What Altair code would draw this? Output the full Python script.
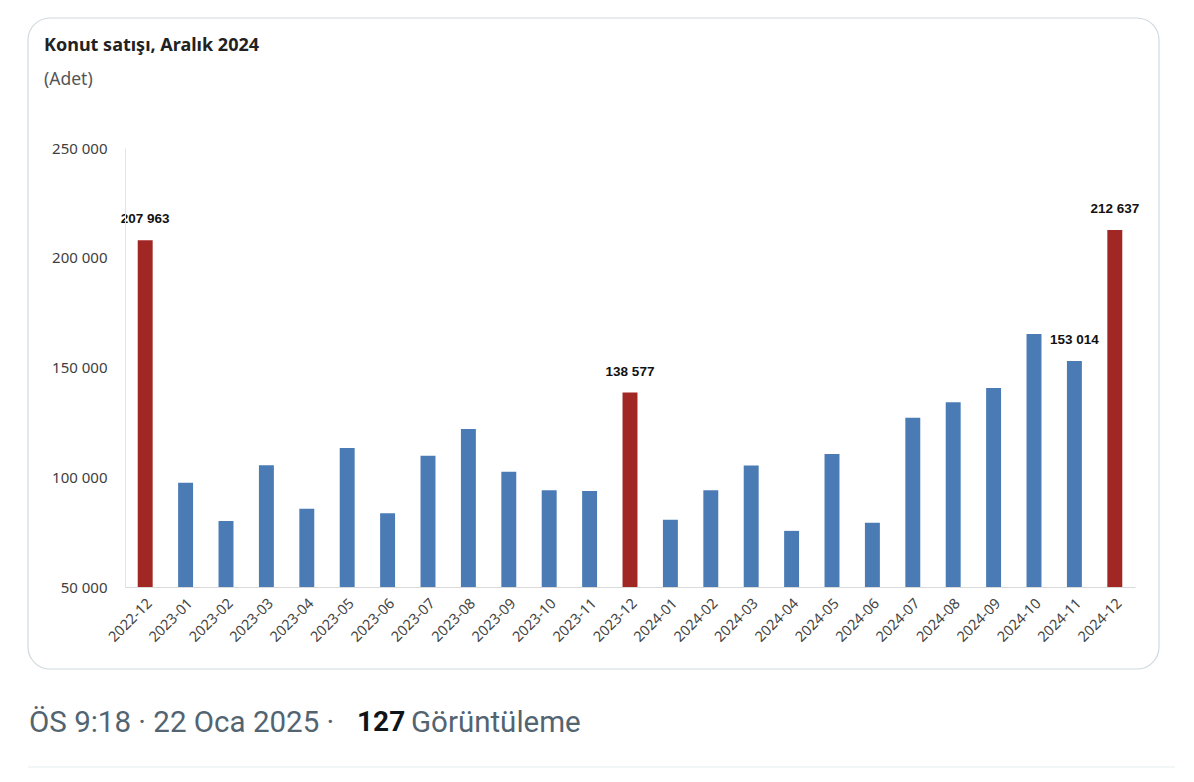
import altair as alt
import pandas as pd

months = ["2022-12", "2023-01", "2023-02", "2023-03", "2023-04", "2023-05", "2023-06",
          "2023-07", "2023-08", "2023-09", "2023-10", "2023-11", "2023-12",
          "2024-01", "2024-02", "2024-03", "2024-04", "2024-05", "2024-06",
          "2024-07", "2024-08", "2024-09", "2024-10", "2024-11", "2024-12"]
sales = [207963, 97475, 80017, 105476, 85652, 113276, 83636,
         109779, 121950, 102539, 94031, 93680, 138577,
         80679, 94022, 105394, 75569, 110588, 79313,
         127114, 134154, 140706, 165262, 153014, 212637]
highlight = ["2022-12", "2023-12", "2024-12"]
labelled = ["2022-12", "2023-12", "2024-11", "2024-12"]
y_ticks = [50000, 100000, 150000, 200000, 250000]

title_text = "Konut satışı, Aralık 2024"
subtitle_text = "(Adet)"
footer_a = "ÖS 9:18 · 22 Oca 2025 ·"
footer_b = "127"
footer_c = "Görüntüleme"

BLUE = "#4a7bb5"
RED = "#a02724"

def fmt(v):
    return f"{v:,}".replace(",", " ")

df = pd.DataFrame({"month": months, "sales": sales})
df["kind"] = ["red" if m in highlight else "blue" for m in months]
df["label"] = [fmt(v) if m in labelled else "" for m, v in zip(months, sales)]

W, H = 1010, 439

xenc = alt.X("month:N", sort=months,
             scale=alt.Scale(paddingInner=0.63, paddingOuter=0.315),
             axis=alt.Axis(title=None, labelAngle=-45, labelFontSize=14.5, labelColor="#454545",
                           labelFont="Noto Sans", ticks=False, domainColor="#d9d9d9",
                           labelPadding=9, zindex=2))
yenc = alt.Y("sales:Q", scale=alt.Scale(domain=[50000, 250000], nice=False, zero=False),
             axis=alt.Axis(title=None, values=y_ticks,
                           labelExpr="replace(format(datum.value, ','), regexp(',', 'g'), ' ')",
                           labelFontSize=15, labelColor="#404040", labelFont="Noto Sans",
                           ticks=False, grid=False, domainColor="#e3e3e3", labelPadding=18,
                           zindex=2))

base = alt.Chart(df)
one = alt.Data(values=[{"a": 1}])

card = alt.Chart(one).mark_rect(
    fill="white", stroke="#cfd9de", strokeWidth=1.2, cornerRadius=22
).encode(x=alt.value(-97), x2=alt.value(1034), y=alt.value(-130), y2=alt.value(521))

sep = alt.Chart(one).mark_rule(color="#eff3f4", strokeWidth=1.5).encode(
    x=alt.value(-97), x2=alt.value(1060), y=alt.value(619))

title = alt.Chart(alt.Data(values=[{"t": title_text}])).mark_text(
    font="Noto Sans", fontSize=18, fontWeight="bold", color="#222222", align="left", baseline="middle"
).encode(x=alt.value(-81), y=alt.value(-102), text="t:N")
subtitle = alt.Chart(alt.Data(values=[{"t": subtitle_text}])).mark_text(
    font="Noto Sans", fontSize=17.5, color="#555555", align="left", baseline="middle"
).encode(x=alt.value(-81), y=alt.value(-68), text="t:N")

bars = base.mark_bar().encode(
    x=xenc, y=yenc, y2=alt.datum(50000),
    color=alt.Color("kind:N", scale=alt.Scale(domain=["blue", "red"], range=[BLUE, RED]), legend=None),
)

labels = base.transform_filter(
    alt.FieldOneOfPredicate(field="month", oneOf=labelled)
).mark_text(font="Liberation Sans", fontWeight="bold", fontSize=13.5, color="#111111",
            baseline="alphabetic", dy=-17).encode(x=alt.X("month:N", sort=months), y="sales:Q", text="label:N")

footer_style = dict(font="Roboto", baseline="middle", align="left")
foot1 = alt.Chart(alt.Data(values=[{"t": footer_a}])).mark_text(
    color="#536471", fontSize=29.5, **footer_style).encode(x=alt.value(-96), y=alt.value(575), text="t:N")
foot2 = alt.Chart(alt.Data(values=[{"t": footer_b}])).mark_text(
    color="#0f1419", fontWeight="bold", fontSize=28, **footer_style).encode(x=alt.value(232), y=alt.value(575), text="t:N")
foot3 = alt.Chart(alt.Data(values=[{"t": footer_c}])).mark_text(
    color="#536471", fontSize=29.5, **footer_style).encode(x=alt.value(286), y=alt.value(575), text="t:N")

chart = alt.layer(card, sep, title, subtitle, bars, labels, foot1, foot2, foot3).properties(
    width=W, height=H,
    autosize=alt.AutoSizeParams(type="none"),
    padding={"left": 117, "top": 140, "right": 40, "bottom": 182},
).configure_view(stroke=None).configure(background="white")

chart.save("out.html", embed_options={"renderer": "svg", "actions": False})
